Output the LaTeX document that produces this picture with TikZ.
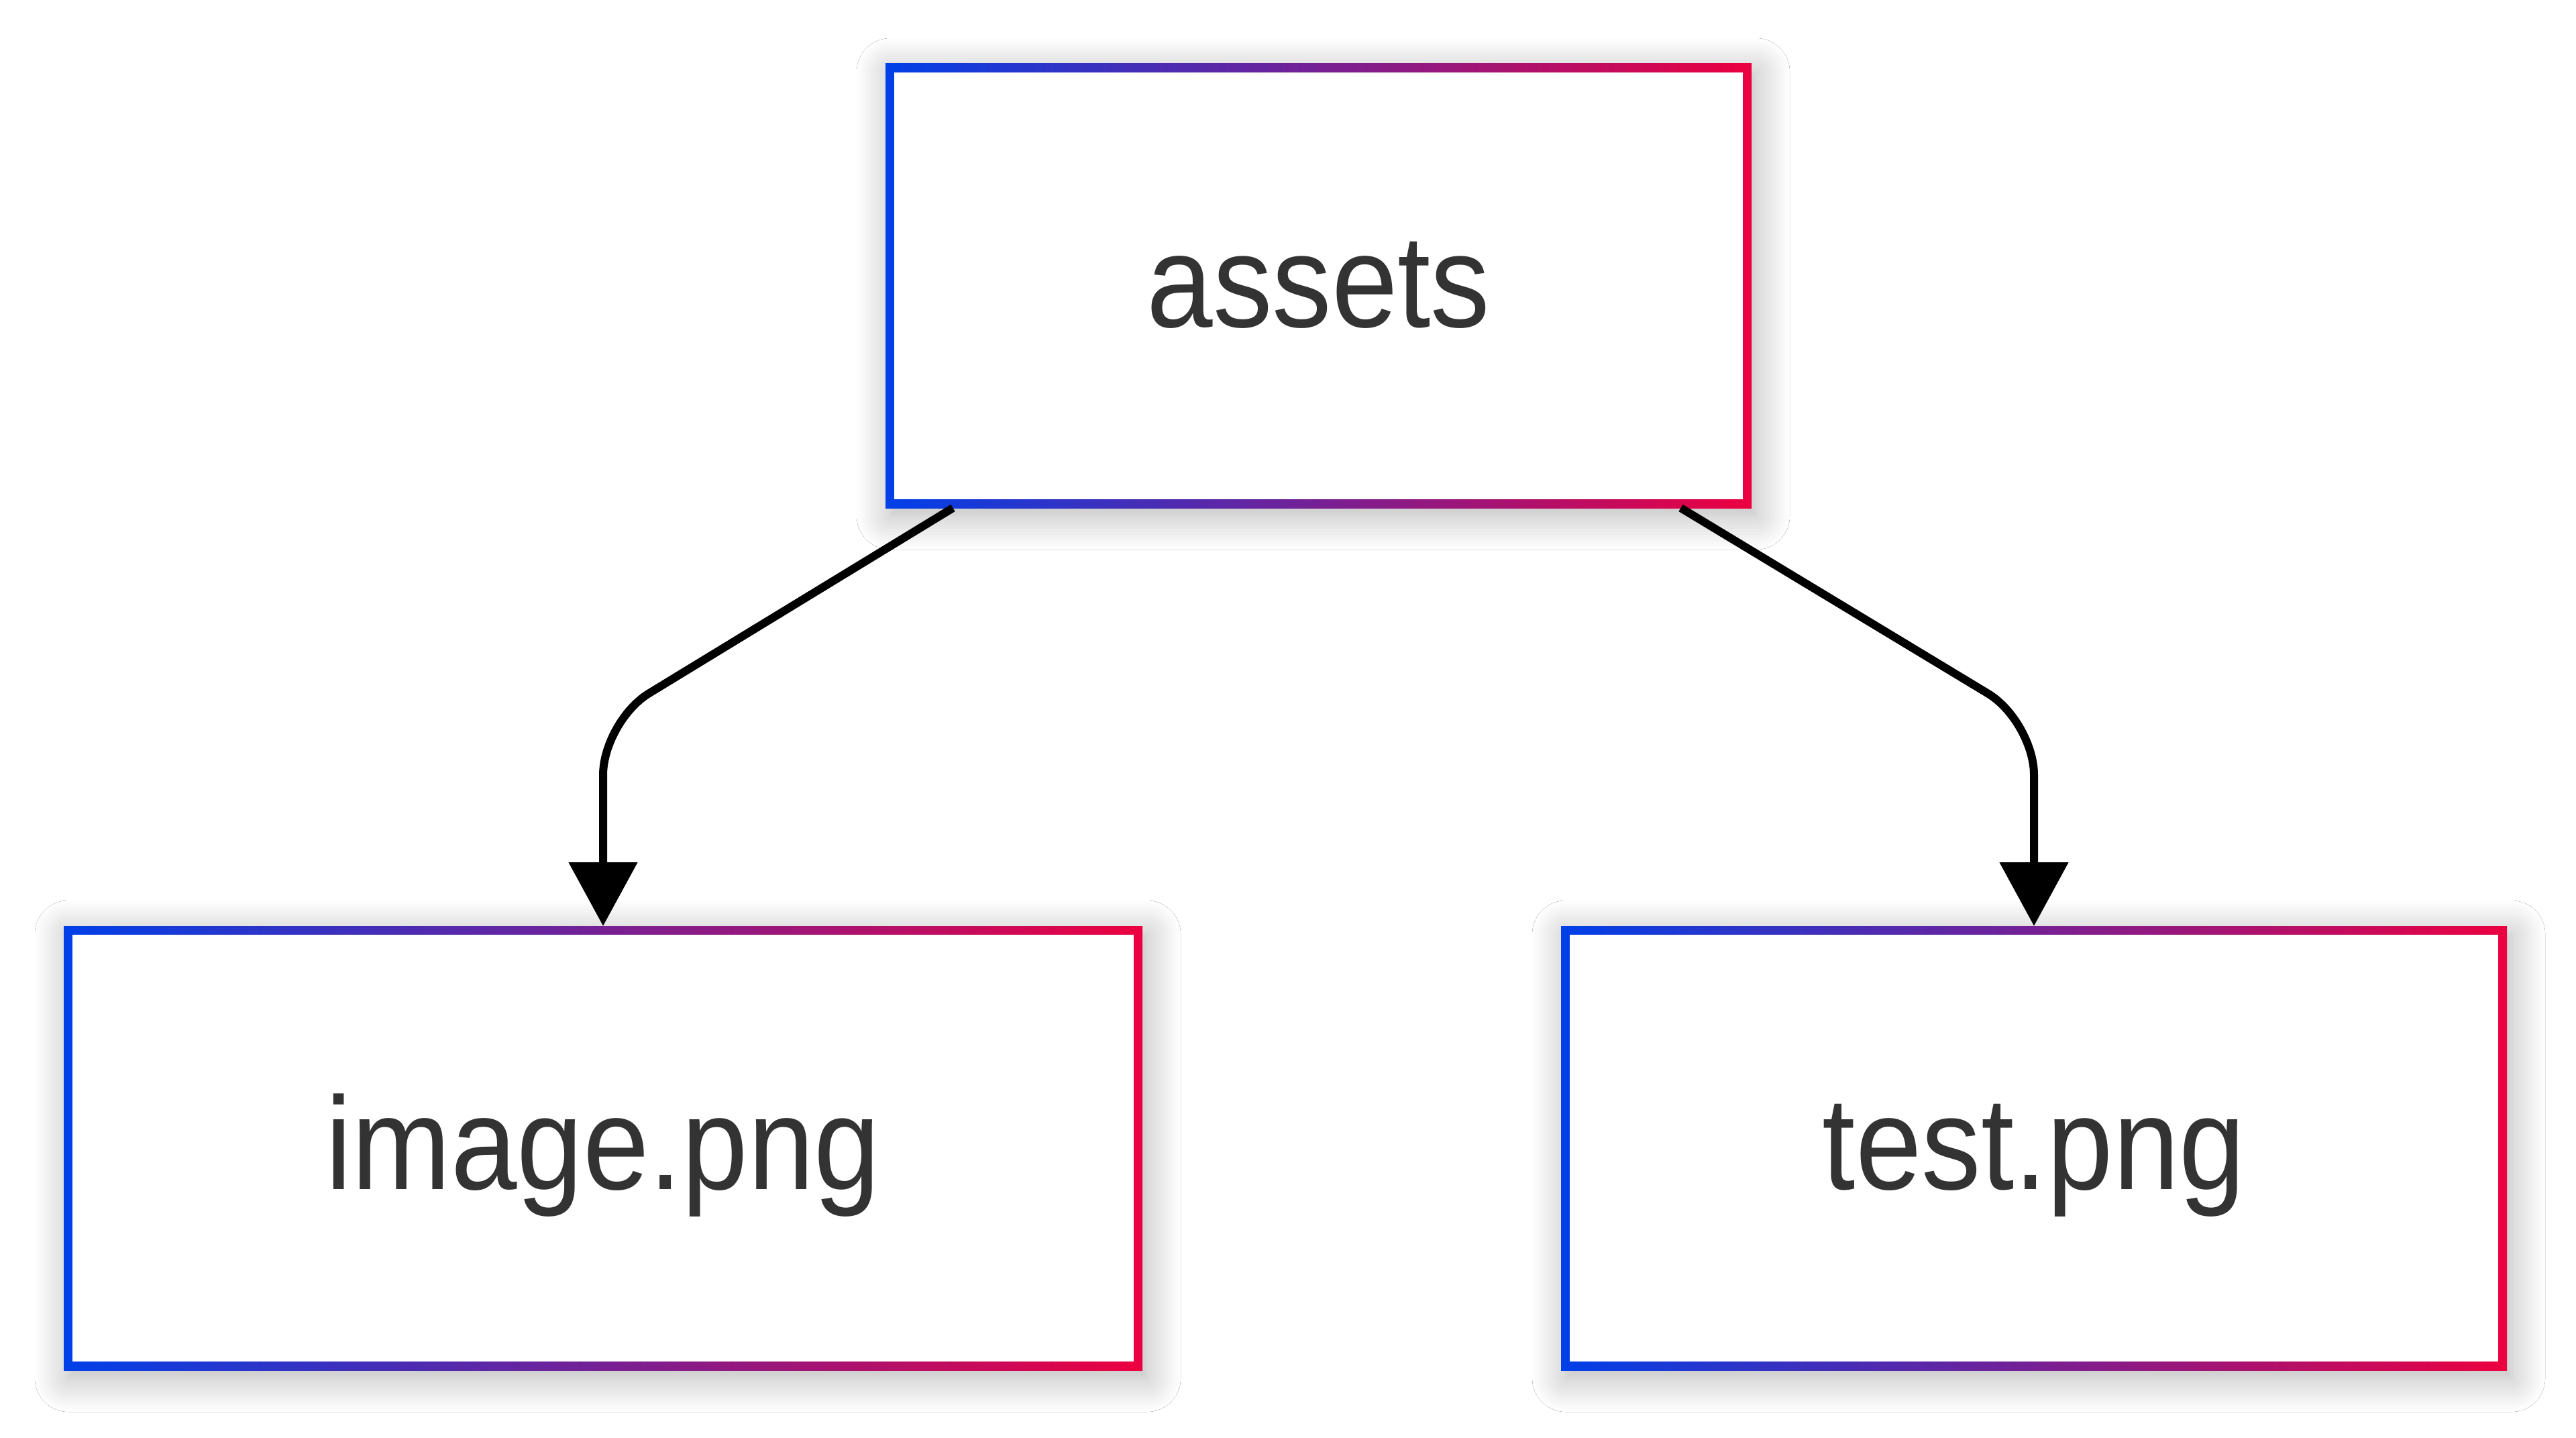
\documentclass[tikz,border=0pt]{standalone}
\usepackage{fontspec}
\newfontfamily\boxfont[FakeStretch=0.9]{Liberation Sans}
\usetikzlibrary{arrows.meta,shadows.blur}
\definecolor{boxblue}{RGB}{0,64,232}
\definecolor{boxred}{RGB}{236,0,64}
\definecolor{boxtext}{RGB}{51,51,51}
\tikzset{
  filebox/.style={rectangle, minimum height=6.62cm, outer sep=0pt, inner sep=0pt,
    left color=boxblue, right color=boxred,
    blur shadow={shadow xshift=0.07cm, shadow yshift=-0.12cm, shadow blur radius=0.5cm,
      shadow blur steps=12, shadow opacity=30},
    path picture={\fill[white] ([shift={(0.13,0.13)}]path picture bounding box.south west)
      rectangle ([shift={(-0.13,-0.13)}]path picture bounding box.north east);},
    text=boxtext, font=\boxfont\fontsize{56}{68}\selectfont,
    text height=49.2pt, text depth=14pt},
  link/.style={line width=0.12cm, rounded corners=0.8cm,
    -{Triangle[length=0.95cm, width=1.0cm]}}
}

\begin{document}
\begin{tikzpicture}
\fill[white] (0,0) rectangle (38.4,-21.42);
\useasboundingbox (0,0) rectangle (38.4,-21.42);
\node[filebox, minimum width=12.91cm] (assets) at (19.655,-4.26) {assets};
\node[filebox, minimum width=16.08cm] (image) at (8.99,-17.11) {image.png};
\node[filebox, minimum width=14.10cm] (test) at (30.32,-17.11) {test.png};
\draw[link] ([xshift=-5.45cm]assets.south) -- (image.north |- 0,-10.75) -- (image.north);
\draw[link] ([xshift=5.4cm]assets.south) -- (test.north |- 0,-10.75) -- (test.north);
\end{tikzpicture}
\end{document}
